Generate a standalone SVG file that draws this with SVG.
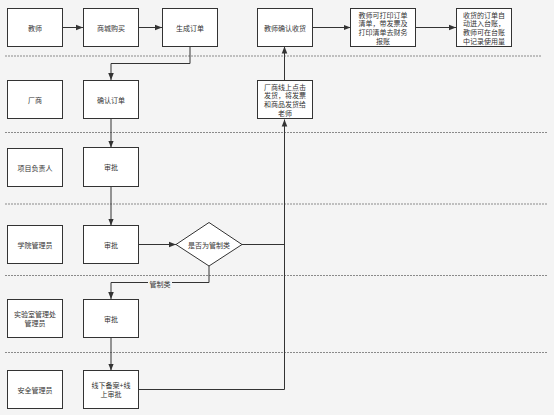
<svg xmlns="http://www.w3.org/2000/svg" width="554" height="415" viewBox="0 0 554 415">
<style>
.box{fill:#fff;stroke:#333;stroke-width:1}
.t{font-family:"Noto Sans CJK SC","Noto Sans",sans-serif;font-size:7px;fill:#333;text-anchor:middle;dominant-baseline:central}
.sep{stroke:#8a8a8a;stroke-width:1;stroke-dasharray:2 1;fill:none}
.c{stroke:#333;stroke-width:1;fill:none}
</style>
<defs>
<marker id="ah" viewBox="0 0 10 10" refX="10" refY="5" markerWidth="7" markerHeight="7" markerUnits="userSpaceOnUse" orient="auto">
<path d="M0,1 L10,5 L0,9 z" fill="#333"/>
</marker>
</defs>
<rect width="554" height="415" fill="#f4f4f4"/>
<g id="separators">
<line class="sep" x1="5" y1="56" x2="541" y2="56"/>
<line class="sep" x1="5" y1="132.5" x2="548" y2="132.5"/>
<line class="sep" x1="5" y1="204" x2="548" y2="204"/>
<line class="sep" x1="5" y1="275.5" x2="548" y2="275.5"/>
<line class="sep" x1="5" y1="352.5" x2="548" y2="352.5"/>
</g>
<g id="connectors">
<line class="c" x1="62" y1="27.5" x2="83" y2="27.5" marker-end="url(#ah)"/>
<line class="c" x1="138" y1="27.5" x2="162" y2="27.5" marker-end="url(#ah)"/>
<polyline class="c" points="190,47 190,63.5 111,63.5 111,80" marker-end="url(#ah)"/>
<line class="c" x1="111" y1="119" x2="111" y2="147.5" marker-end="url(#ah)"/>
<line class="c" x1="111" y1="186.5" x2="111" y2="225.5" marker-end="url(#ah)"/>
<line class="c" x1="138" y1="244.5" x2="176" y2="244.5" marker-end="url(#ah)"/>
<polyline class="c" points="209,266 209,282.5 111,282.5 111,299" marker-end="url(#ah)"/>
<line class="c" x1="111" y1="337.5" x2="111" y2="370.5" marker-end="url(#ah)"/>
<polyline class="c" points="138,389.5 284.5,389.5 284.5,119.5" marker-end="url(#ah)"/>
<line class="c" x1="242" y1="244.5" x2="284.5" y2="244.5"/>
<line class="c" x1="284.5" y1="80" x2="284.5" y2="46.5" marker-end="url(#ah)"/>
<line class="c" x1="312.5" y1="27.5" x2="350.5" y2="27.5" marker-end="url(#ah)"/>
<line class="c" x1="415.5" y1="27.5" x2="456" y2="27.5" marker-end="url(#ah)"/>
<rect x="148" y="278.5" width="24" height="9" fill="#f4f4f4"/>
<text class="t" x="160" y="283.5">管制类</text>
</g>
<g id="n-teacher"><rect class="box" x="7.5" y="8.5" width="55" height="38"/><text class="t" x="35" y="27.5">教师</text></g>
<g id="n-mall"><rect class="box" x="83.5" y="8.5" width="55" height="38"/><text class="t" x="111" y="27.5">商城购买</text></g>
<g id="n-order"><rect class="box" x="162.5" y="8.5" width="55" height="38"/><text class="t" x="190" y="27.5">生成订单</text></g>
<g id="n-receive"><rect class="box" x="257.5" y="8.5" width="55" height="38"/><text class="t" x="285" y="27.5">教师确认收货</text></g>
<g id="n-print"><rect class="box" x="350.5" y="8.5" width="65" height="38"/>
<text class="t" x="383" y="14.5">教师可打印订单</text><text class="t" x="383" y="23.2">清单，带发票及</text><text class="t" x="383" y="31.9">打印清单去财务</text><text class="t" x="383" y="40.6">报账</text></g>
<g id="n-ledger"><rect class="box" x="456.5" y="8.5" width="55" height="38"/>
<text class="t" x="484" y="14.5">收货的订单自</text><text class="t" x="484" y="23.2">动进入台账，</text><text class="t" x="484" y="31.9">教师可在台账</text><text class="t" x="484" y="40.6">中记录使用量</text></g>
<g id="n-vendor"><rect class="box" x="7.5" y="80.5" width="55" height="38"/><text class="t" x="35" y="99.5">厂商</text></g>
<g id="n-confirm"><rect class="box" x="83.5" y="80.5" width="55" height="38"/><text class="t" x="111" y="99.5">确认订单</text></g>
<g id="n-ship"><rect class="box" x="257.5" y="80.5" width="55" height="38"/>
<text class="t" x="285" y="86.5">厂商线上点击</text><text class="t" x="285" y="95.2">发货，将发票</text><text class="t" x="285" y="103.9">和商品发货给</text><text class="t" x="285" y="112.6">老师</text></g>
<g id="n-pm"><rect class="box" x="7.5" y="148.5" width="55" height="38"/><text class="t" x="35" y="167.5">项目负责人</text></g>
<g id="n-approve1"><rect class="box" x="83.5" y="147.5" width="55" height="39"/><text class="t" x="111" y="167">审批</text></g>
<g id="n-college"><rect class="box" x="7.5" y="225.5" width="55" height="38"/><text class="t" x="35" y="244.5">学院管理员</text></g>
<g id="n-approve2"><rect class="box" x="83.5" y="225.5" width="55" height="38"/><text class="t" x="111" y="244.5">审批</text></g>
<g id="n-decision"><polygon class="box" points="209,222.5 242,244.5 209,266 176,244.5"/><text class="t" x="209" y="244.5">是否为管制类</text></g>
<g id="n-lab"><rect class="box" x="7.5" y="299.5" width="55" height="38"/>
<text class="t" x="35" y="314">实验室管理处</text><text class="t" x="35" y="322.7">管理员</text></g>
<g id="n-approve3"><rect class="box" x="83.5" y="299.5" width="55" height="38"/><text class="t" x="111" y="318.5">审批</text></g>
<g id="n-safety"><rect class="box" x="7.5" y="370.5" width="55" height="38"/><text class="t" x="35" y="389.5">安全管理员</text></g>
<g id="n-offline"><rect class="box" x="83.5" y="370.5" width="55" height="38"/>
<text class="t" x="111" y="385">线下备案+线</text><text class="t" x="111" y="393.7">上审批</text></g>
</svg>
